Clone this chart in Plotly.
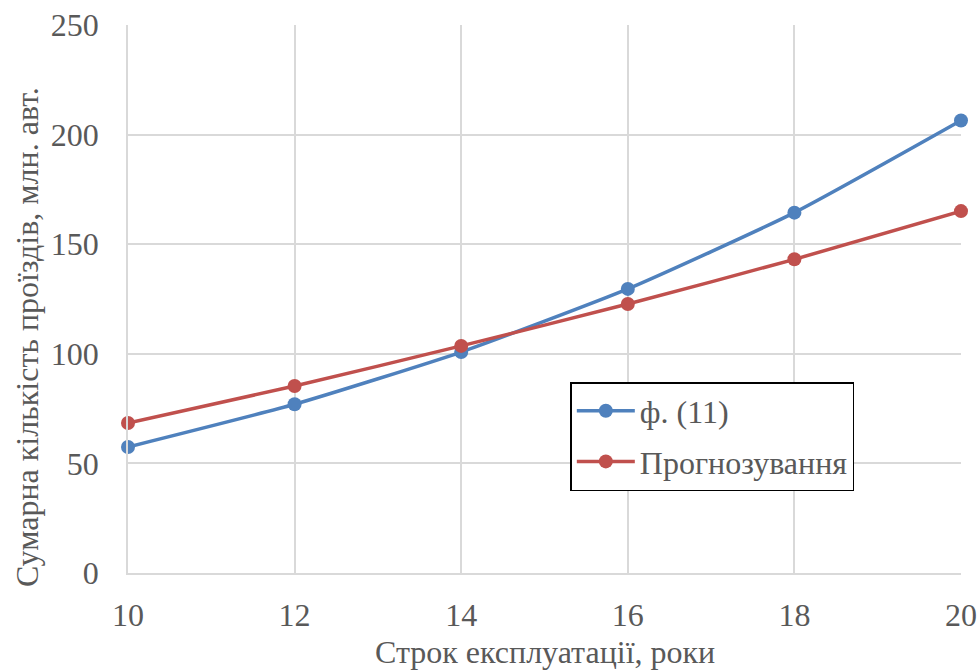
import plotly.graph_objects as go

years = [10, 12, 14, 16, 18, 20]
formula_11 = [57.5, 77.0, 100.8, 129.6, 164.4, 206.4]
forecast = [68.4, 85.3, 103.6, 122.7, 143.1, 165.1]

x_ticks = [10, 12, 14, 16, 18, 20]
y_ticks = [0, 50, 100, 150, 200, 250]

x_title = "Строк експлуатації, роки"
y_title = "Сумарна кількість проїздів, млн. авт."

FONT = "Times New Roman, Liberation Serif, DejaVu Serif, serif"
GREY = "#595959"

fig = go.Figure()
fig.add_trace(go.Scatter(
    x=years, y=formula_11, name="ф. (11)", mode="lines+markers", legendgroup="a",
    line=dict(color="#4F81BD", width=3.5, shape="spline", smoothing=0.5),
    marker=dict(color="#4F81BD", size=14), cliponaxis=False))
fig.add_trace(go.Scatter(
    x=years, y=forecast, name="Прогнозування", mode="lines+markers", legendgroup="b",
    line=dict(color="#C0504D", width=3.5, shape="spline", smoothing=0.5),
    marker=dict(color="#C0504D", size=14), cliponaxis=False))

fig.update_layout(
    width=979, height=670,
    margin=dict(l=128, r=18, t=25, b=97, autoexpand=False),
    paper_bgcolor="white", plot_bgcolor="white",
    font=dict(family=FONT, color=GREY, size=30),
    showlegend=True,
    legend=dict(
        x=0.531, y=0.3485, xanchor="left", yanchor="top",
        bordercolor="black", borderwidth=1.5, bgcolor="white",
        font=dict(family=FONT, size=32, color=GREY),
        itemwidth=58, tracegroupgap=6, traceorder="grouped",
    ),
    xaxis=dict(
        range=[10, 20], tickvals=x_ticks, ticktext=[str(v) for v in x_ticks],
        showgrid=True, gridcolor="#D9D9D9", gridwidth=1.5,
        showline=True, linecolor="#D9D9D9", linewidth=1.5,
        zeroline=False, ticks="", ticklabelstandoff=13, automargin=False,
        tickfont=dict(family=FONT, size=32, color=GREY),
    ),
    yaxis=dict(
        range=[0, 250], tickvals=y_ticks, ticktext=[str(v) for v in y_ticks],
        showgrid=True, gridcolor="#D9D9D9", gridwidth=1.5,
        showline=True, linecolor="#D9D9D9", linewidth=1.5,
        zeroline=False, ticks="", ticklabelstandoff=21, automargin=False,
        tickfont=dict(family=FONT, size=32, color=GREY),
    ),
    annotations=[
        dict(text=x_title, xref="paper", yref="paper", x=0.5, y=-0.144,
             xanchor="center", yanchor="middle", showarrow=False,
             font=dict(family=FONT, size=32, color=GREY)),
        dict(text=y_title, xref="paper", yref="paper", x=-0.1213, y=0.4307,
             xanchor="center", yanchor="middle", textangle=-90, showarrow=False,
             font=dict(family=FONT, size=32, color=GREY)),
    ],
)

fig.write_html("out.html")
